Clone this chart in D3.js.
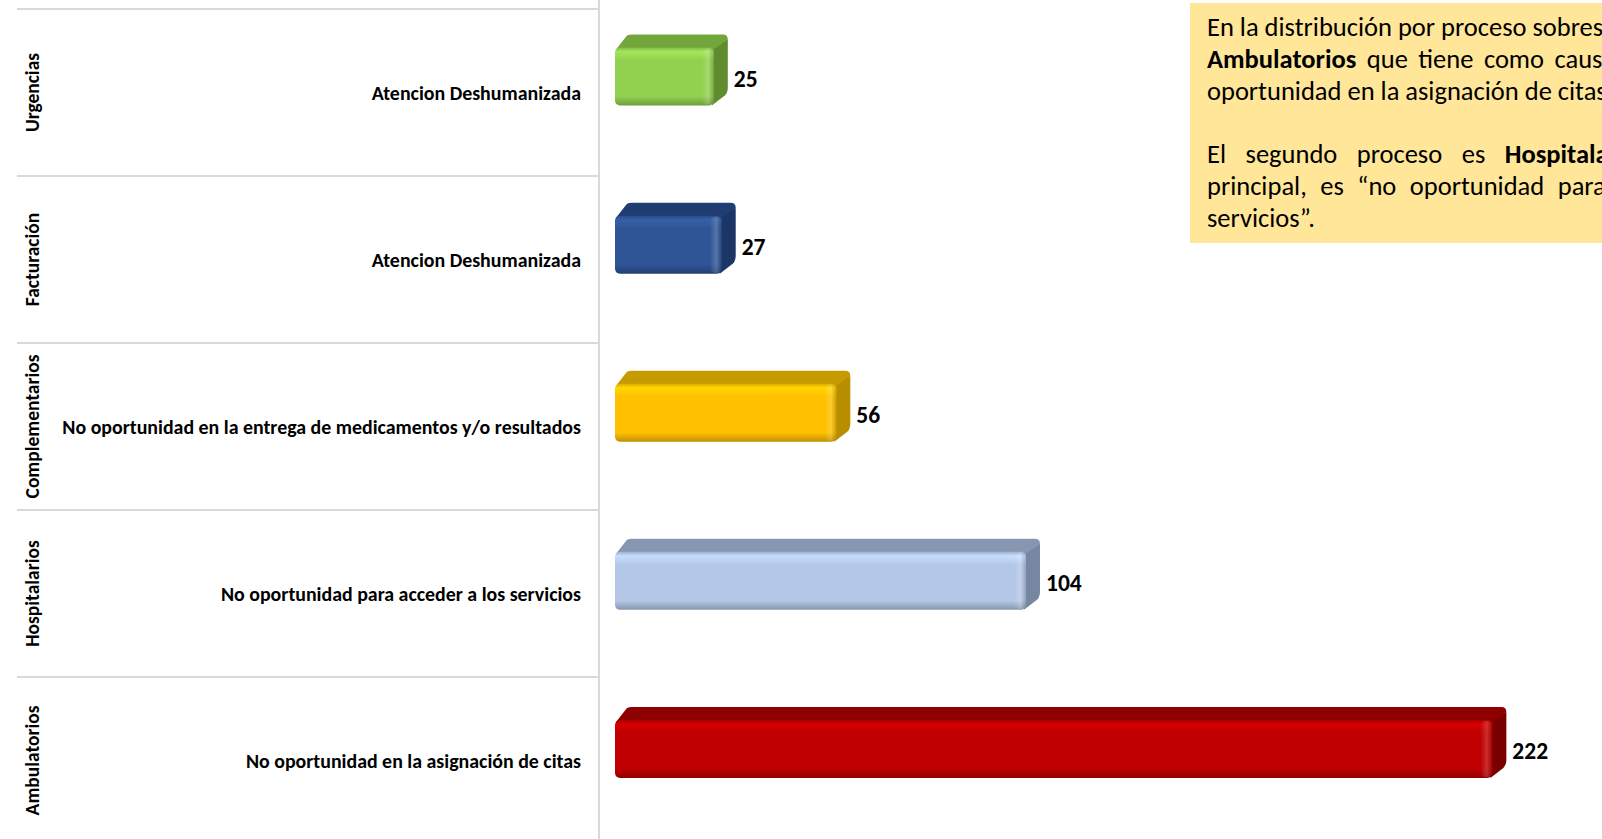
<!DOCTYPE html>
<html>
<head>
<meta charset="utf-8">
<script src="https://cdn.jsdelivr.net/npm/d3@7"></script>
<style>
  html, body { margin: 0; padding: 0; background: #fff; overflow: hidden; }
  svg { display: block; font-family: Carlito, Calibri, Lato, "Open Sans", sans-serif; }
</style>
</head>
<body>
<svg id="chart" width="1602" height="839"></svg>
<script>
// Quejas por proceso y causa principal
const processes = ["Urgencias", "Facturación", "Complementarios", "Hospitalarios", "Ambulatorios"];
const causes = [
  "Atencion Deshumanizada",
  "Atencion Deshumanizada",
  "No oportunidad en la entrega de medicamentos y/o resultados",
  "No oportunidad para acceder a los servicios",
  "No oportunidad en la asignación de citas"
];
const counts = [25, 27, 56, 104, 222];
const frontColors = ["#92D050", "#2F5597", "#FFC000", "#B4C7E7", "#C00000"];
const topColors   = ["#72A53A", "#1F3C73", "#C79A00", "#8797B2", "#8E0000"];
const sideColors  = ["#5F8C2E", "#1B3566", "#B88E00", "#7887A1", "#7A0000"];

// Note text: each line is a list of [text, bold] runs
const noteLines = [
  [["En la distribución por proceso sobresale el proceso de", false]],
  [["Ambulatorios", true], [" que tiene como causa principal la no", false]],
  [["oportunidad en la asignación de citas.", false]],
  [],
  [["El segundo proceso es ", false], ["Hospitalarios", true], [" cuya causa", false]],
  [["principal, es “no oportunidad para acceder a los", false]],
  [["servicios”.", false]]
];
const noteWordSpacing = [0, 4.5, 0, 0, 13.5, 7.5, 0];

const W = 1602, H = 839;
const svg = d3.select("#chart");
const defs = svg.append("defs");

// Row bands (grid of the category table on the left)
const rowScale = d3.scaleBand().domain(processes).range([9, 844]);
// Bars sit on the projected floor of the 3D plot, slightly offset from the rows
const barScale = d3.scaleBand().domain(processes).range([-7.5, 833]);
const x = d3.scaleLinear().domain([0, 250]).range([615, 1603]);

const gridColor = "#D9D9D9";
const tableLeft = 17, tableRight = 599;

// Grid lines
svg.append("g").selectAll("line")
  .data(processes)
  .join("line")
  .attr("x1", tableLeft).attr("x2", tableRight)
  .attr("y1", d => rowScale(d)).attr("y2", d => rowScale(d))
  .attr("stroke", gridColor).attr("stroke-width", 2);

svg.append("line")
  .attr("x1", tableRight).attr("x2", tableRight)
  .attr("y1", 0).attr("y2", H)
  .attr("stroke", gridColor).attr("stroke-width", 2);

// Process labels (rotated)
svg.append("g").selectAll("text")
  .data(processes)
  .join("text")
  .attr("transform", d => `translate(32,${rowScale(d) + rowScale.bandwidth() / 2}) rotate(-90)`)
  .attr("text-anchor", "middle")
  .attr("dominant-baseline", "central")
  .attr("font-weight", "bold")
  .attr("font-size", 19.5)
  .attr("fill", "#000")
  .text(d => d);

// Cause labels
svg.append("g").selectAll("text")
  .data(processes)
  .join("text")
  .attr("x", 581)
  .attr("y", d => rowScale(d) + rowScale.bandwidth() / 2)
  .attr("text-anchor", "end")
  .attr("dominant-baseline", "central")
  .attr("font-weight", "bold")
  .attr("font-size", 19.9)
  .attr("fill", "#000")
  .text((d, i) => causes[i]);

// Gradients for the bevelled bars
frontColors.forEach((c, i) => {
  const base = d3.color(c);
  const g = defs.append("linearGradient")
    .attr("id", "front" + i).attr("x1", 0).attr("y1", 0).attr("x2", 0).attr("y2", 1);
  [[0, base.darker(0.35)], [0.07, base.brighter(0.3)], [0.22, base],
   [0.84, base], [0.94, base.darker(0.45)], [1, base.darker(0.8)]]
    .forEach(([o, col]) => g.append("stop").attr("offset", o).attr("stop-color", col.formatHex()));
});
const edge = defs.append("linearGradient")
  .attr("id", "edge").attr("x1", 0).attr("y1", 0).attr("x2", 1).attr("y2", 0);
edge.append("stop").attr("offset", 0).attr("stop-color", "#fff").attr("stop-opacity", 0);
edge.append("stop").attr("offset", 0.55).attr("stop-color", "#fff").attr("stop-opacity", 0.18);
edge.append("stop").attr("offset", 1).attr("stop-color", "#000").attr("stop-opacity", 0.18);

const barH = 58, dx = 14, dy = 13, r = 5;
const bars = svg.append("g").selectAll("g")
  .data(processes)
  .join("g");

bars.each(function (d, i) {
  const g = d3.select(this);
  const cy = barScale(d) + barScale.bandwidth() / 2;
  const yT = cy - barH / 2, yB = cy + barH / 2;
  const x0 = x(0), x1 = x(counts[i]);

  // side face
  g.append("path")
    .attr("d", `M${x1 - 2},${yT} L${x1 + dx},${yT - dy + r} L${x1 + dx},${yB - dy - r}
                Q${x1 + dx},${yB - dy} ${x1 + dx - 3},${yB - dy + 3} L${x1 - 2},${yB} Z`)
    .attr("fill", sideColors[i]);
  // top face
  g.append("path")
    .attr("d", `M${x0 + 1},${yT + 2} L${x0 + dx - 2},${yT - dy + 1}
                Q${x0 + dx},${yT - dy} ${x0 + dx + 3},${yT - dy}
                L${x1 + dx - r},${yT - dy} Q${x1 + dx},${yT - dy} ${x1 + dx},${yT - dy + r}
                L${x1},${yT + 2} Z`)
    .attr("fill", topColors[i]);
  // front face
  g.append("rect")
    .attr("x", x0).attr("y", yT)
    .attr("width", x1 - x0).attr("height", barH)
    .attr("rx", r).attr("ry", r)
    .attr("fill", `url(#front${i})`);
  // rounded right bevel
  g.append("rect")
    .attr("x", x1 - 12).attr("y", yT + 1)
    .attr("width", 12).attr("height", barH - 2)
    .attr("rx", r).attr("ry", r)
    .attr("fill", "url(#edge)");

  // value label
  g.append("text")
    .attr("x", x1 + dx + 6)
    .attr("y", cy + 2)
    .attr("dominant-baseline", "central")
    .attr("font-weight", "bold")
    .attr("font-size", 23.5)
    .attr("fill", "#000")
    .text(counts[i]);
});

// Note box
svg.append("rect")
  .attr("x", 1190).attr("y", 3)
  .attr("width", 500).attr("height", 240)
  .attr("fill", "#FFE699");

const note = svg.append("g");
noteLines.forEach((runs, i) => {
  if (!runs.length) return;
  const t = note.append("text")
    .attr("x", 1207)
    .attr("y", 27 + i * 31.8)
    .attr("dominant-baseline", "central")
    .attr("font-size", 26.5)
    .attr("fill", "#000")
    .attr("word-spacing", noteWordSpacing[i]);
  runs.forEach(([txt, bold]) => {
    t.append("tspan").attr("font-weight", bold ? "bold" : "normal").text(txt);
  });
});
</script>
</body>
</html>
